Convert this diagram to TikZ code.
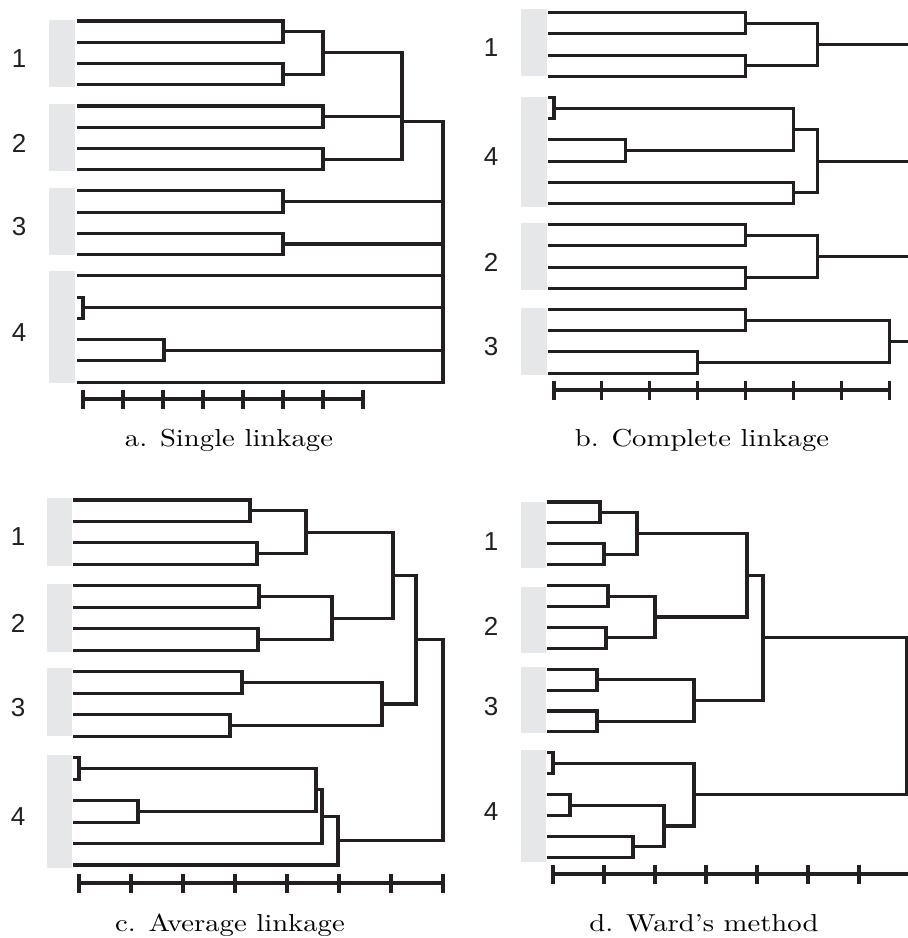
\documentclass[tikz,border=0pt]{standalone}
\usepackage{fontspec}
\usepackage{graphicx}
\usetikzlibrary{positioning}
\newfontfamily\numfont{Liberation Sans}
\definecolor{barc}{RGB}{230,231,232}
\definecolor{ink}{RGB}{35,31,32}
% one link of a dendrogram: from (xa,ya) across to xm, down to yb, back to xb
\newcommand{\dlink}[5]{\draw[tree] (#1,#2) -| (#5,#4) -- (#3,#4);}
% distance axis: start, height, tick step
\newcommand{\daxis}[3]{%
  \draw[tree] (#1,#2) -- ({#1+7*#3},#2);
  \foreach \k in {0,...,7} \draw[tree] ({#1+\k*#3},{#2-9.5}) -- ({#1+\k*#3},{#2+9.5});}
\newcommand{\capt}[1]{\scalebox{2.87}[2.45]{\fontsize{10}{12}\selectfont #1}}

\begin{document}
\begin{tikzpicture}[
x=1pt, y=-1pt,
tree/.style    ={draw=ink, line width=3.1pt},
bar/.style     ={fill=barc},
num/.style     ={font=\numfont\fontsize{26}{30}\selectfont, text=ink, inner sep=0pt},
caption/.style ={anchor=base, inner sep=0pt},
]
\useasboundingbox (0,0) rectangle (908,938);

% a. Single linkage
\fill[bar] (49,20) rectangle (75,87);
\fill[bar] (49,104) rectangle (75,171);
\fill[bar] (49,188) rectangle (75,255);
\fill[bar] (49,271) rectangle (75,383);
\node[num] (a1) at (19,59)  {1};
\node[num] (a2) at (19,143) {2};
\node[num] (a3) at (19,227) {3};
\node[num] (a4) at (19,333) {4};
\dlink{77}{21.0}{77}{42.2}{283}
\dlink{77}{63.5}{77}{84.7}{283}
\dlink{283}{31.6}{283}{74.1}{323}
\dlink{77}{106.0}{77}{127.2}{323}
\dlink{77}{148.4}{77}{169.7}{323}
\dlink{323}{52.85}{323}{116.6}{402}
\dlink{402}{84.7}{323}{159.05}{402}
\dlink{77}{190.9}{77}{212.2}{283}
\dlink{77}{233.4}{77}{254.6}{283}
\dlink{77}{297.1}{77}{318.4}{83}
\dlink{77}{339.6}{77}{360.8}{164}
\dlink{402}{121.9}{77}{382.1}{443}
\draw[tree] (283,201.55) -- (443,201.55);
\draw[tree] (283,244.0) -- (443,244.0);
\draw[tree] (77,275.9) -- (443,275.9);
\draw[tree] (83,307.75) -- (443,307.75);
\draw[tree] (164,350.2) -- (443,350.2);
\daxis{83}{399}{40}
\node[caption] (capa) at (229,446.5) {\capt{a. Single linkage}};

% b. Complete linkage
\fill[bar] (521,9) rectangle (547,76);
\fill[bar] (521,97) rectangle (547,207);
\fill[bar] (521,223) rectangle (547,290);
\fill[bar] (521,308) rectangle (547,375);
\node[num] (b1) at (491,48)  {1};
\node[num] (b4) at (491,157) {4};
\node[num] (b2) at (491,262) {2};
\node[num] (b3) at (491,347) {3};
\dlink{548}{12.7}{548}{33.9}{745.6}
\dlink{548}{55.1}{548}{76.3}{745.6}
\dlink{745.6}{23.3}{745.6}{65.7}{817.5}
\draw[tree] (817.5,44.5) -- (912,44.5);
\dlink{548}{97.5}{548}{118.7}{554}
\dlink{548}{139.9}{548}{161.1}{625.9}
\dlink{554}{108.1}{625.9}{150.5}{793.5}
\dlink{548}{182.3}{548}{203.5}{793.5}
\dlink{793.5}{129.3}{793.5}{192.9}{817.5}
\draw[tree] (817.5,161.1) -- (912,161.1);
\dlink{548}{224.7}{548}{245.9}{745.6}
\dlink{548}{267.1}{548}{288.3}{745.6}
\dlink{745.6}{235.3}{745.6}{277.7}{817.5}
\draw[tree] (817.5,256.5) -- (912,256.5);
\dlink{548}{309.5}{548}{330.7}{745.6}
\dlink{548}{351.9}{548}{373.1}{697.7}
\dlink{745.6}{320.1}{697.7}{362.5}{889.3}
\draw[tree] (889.3,341.3) -- (912,341.3);
\daxis{554}{390}{47.9}
\node[caption] (capb) at (702,446.5) {\capt{b. Complete linkage}};

% c. Average linkage
\fill[bar] (47,498) rectangle (72,566);
\fill[bar] (47,584) rectangle (72,652);
\fill[bar] (47,668) rectangle (72,736);
\fill[bar] (47,755) rectangle (72,868);
\node[num] (c1) at (18,537) {1};
\node[num] (c2) at (18,623) {2};
\node[num] (c3) at (18,708) {3};
\node[num] (c4) at (18,817) {4};
\dlink{73}{500}{73}{521.5}{250}
\dlink{73}{542.9}{73}{564.4}{257}
\dlink{250}{510.75}{257}{553.65}{306}
\dlink{73}{585.9}{73}{607.4}{259}
\dlink{73}{628.8}{73}{650.3}{258}
\dlink{259}{596.65}{258}{639.55}{332}
\dlink{306}{532.2}{332}{618.1}{393}
\dlink{73}{671.8}{73}{693.2}{242}
\dlink{73}{714.7}{73}{736.2}{230}
\dlink{242}{682.5}{230}{725.45}{382}
\dlink{393}{575.15}{382}{704.0}{416}
\dlink{73}{757.6}{73}{779.1}{79}
\dlink{73}{800.6}{73}{822.1}{138}
\dlink{79}{768.35}{138}{811.35}{316}
\dlink{316}{789.85}{73}{843.5}{322}
\dlink{322}{816.7}{73}{865.0}{338}
\dlink{416}{639.6}{338}{840.85}{443}
\daxis{79}{883}{52}
\node[caption] (capc) at (230,931.5) {\capt{c. Average linkage}};

% d. Ward's method
\fill[bar] (521,502) rectangle (546,568);
\fill[bar] (521,587) rectangle (546,653);
\fill[bar] (521,667) rectangle (546,733);
\fill[bar] (521,750) rectangle (546,862);
\node[num] (d1) at (491,542) {1};
\node[num] (d2) at (491,626) {2};
\node[num] (d3) at (491,707) {3};
\node[num] (d4) at (491,812) {4};
\dlink{547}{502}{547}{522.9}{600}
\dlink{547}{543.8}{547}{564.7}{604}
\dlink{600}{512.45}{604}{554.25}{637}
\dlink{547}{585.6}{547}{606.5}{608}
\dlink{547}{627.4}{547}{648.3}{606}
\dlink{608}{596.05}{606}{637.85}{655}
\dlink{637}{533.35}{655}{616.95}{747}
\dlink{547}{669.2}{547}{690.1}{597}
\dlink{547}{711.0}{547}{731.9}{597}
\dlink{597}{679.65}{597}{721.45}{694}
\dlink{747}{575.15}{694}{700.55}{763}
\dlink{547}{752.8}{547}{773.7}{553}
\dlink{547}{794.6}{547}{815.5}{570}
\dlink{547}{836.4}{547}{857.3}{633}
\dlink{570}{805.05}{633}{846.85}{664}
\dlink{553}{763.25}{664}{825.95}{694}
\dlink{763}{637.85}{694}{794.6}{907}
\daxis{553}{874}{51}
\node[caption] (capd) at (704,931.5) {\capt{d. Ward’s method}};

\end{tikzpicture}
\end{document}
